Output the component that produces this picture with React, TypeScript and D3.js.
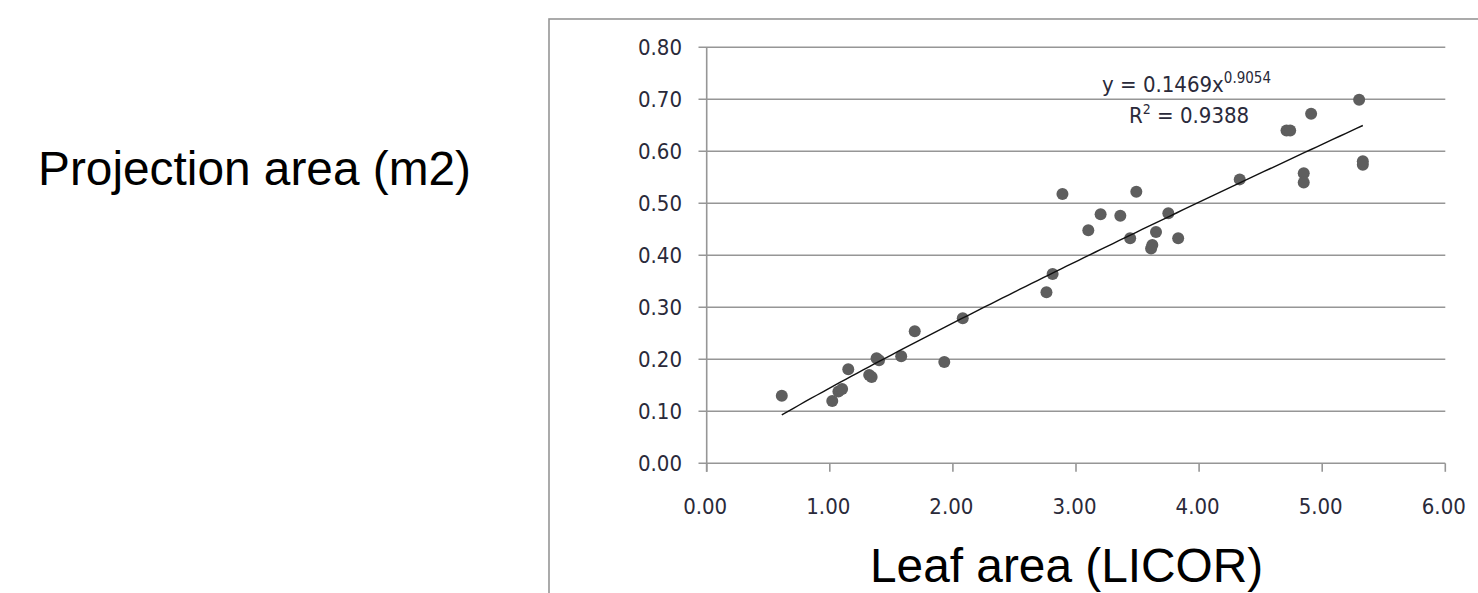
import React from "react";
import * as d3 from "d3";

// Leaf area (LICOR) vs projection area (m2)
const leafArea = [
  0.61, 1.02, 1.07, 1.1, 1.15, 1.32, 1.34, 1.38, 1.4, 1.58, 1.69, 1.93, 2.08,
  2.76, 2.81, 2.89, 3.1, 3.2, 3.36, 3.44, 3.49, 3.61, 3.62, 3.65, 3.75, 3.83,
  4.33, 4.71, 4.74, 4.85, 4.85, 4.91, 5.3, 5.33, 5.33,
];
const projArea = [
  0.13, 0.12, 0.138, 0.143, 0.181, 0.17, 0.166, 0.202, 0.198, 0.206, 0.254,
  0.195, 0.279, 0.329, 0.364, 0.518, 0.448, 0.479, 0.476, 0.433, 0.522, 0.413,
  0.42, 0.445, 0.481, 0.433, 0.546, 0.64, 0.64, 0.558, 0.54, 0.672, 0.699,
  0.574, 0.581,
];
const xTicks = [0, 1, 2, 3, 4, 5, 6];
const yTicks = [0, 0.1, 0.2, 0.3, 0.4, 0.5, 0.6, 0.7, 0.8];
const eqCoef = "0.1469";
const eqExp = "0.9054";
const rSquared = "0.9388";
const yTitle = "Projection area (m2)";
const xTitle = "Leaf area (LICOR)";

// power-law trend fitted (log-log least squares) to the points
function powerFit(xs: number[], ys: number[]) {
  const lx = xs.map(Math.log);
  const ly = ys.map(Math.log);
  const mx = d3.mean(lx) as number;
  const my = d3.mean(ly) as number;
  const sxy = d3.sum(lx, (v, i) => (v - mx) * (ly[i] - my));
  const sxx = d3.sum(lx, (v) => (v - mx) * (v - mx));
  const b = sxy / sxx;
  const a = Math.exp(my - b * mx);
  return { a, b };
}

export default function App() {
  const W = 1478;
  const H = 593;
  const x = d3.scaleLinear().domain([0, 6]).range([706.7, 1445.3]);
  const y = d3.scaleLinear().domain([0, 0.8]).range([463.3, 47.3]);
  const xMin = d3.min(leafArea) as number;
  const xMax = d3.max(leafArea) as number;
  const { a, b } = powerFit(leafArea, projArea);
  const trendPts = d3.range(0, 101).map((i) => {
    const xv = xMin + ((xMax - xMin) * i) / 100;
    return [xv, a * Math.pow(xv, b)] as [number, number];
  });
  const line = d3
    .line<[number, number]>()
    .x((d) => x(d[0]))
    .y((d) => y(d[1]));
  const grid = "#969696";
  const tickFont = {
    fontFamily: "'DejaVu Sans Condensed', 'DejaVu Sans', sans-serif",
    fontStretch: "condensed" as const,
    fontSize: 22,
    fill: "#2a2a3a",
  };
  const fmt = d3.format(".2f");
  return (
    <svg
      width={W}
      height={H}
      style={{ position: "absolute", left: 0, top: 0, background: "#fff" }}
    >
      <rect x={549} y={19} width={1000} height={700} fill="none" stroke={grid} strokeWidth={1.6} />
      {yTicks.map((t) => (
        <g key={"y" + t}>
          <line x1={698.5} x2={x(6)} y1={y(t)} y2={y(t)} stroke={grid} strokeWidth={1.6} />
          <text x={682} y={y(t)} dy="0.36em" textAnchor="end" {...tickFont}>
            {fmt(t)}
          </text>
        </g>
      ))}
      <line x1={x(0)} x2={x(0)} y1={y(0.8)} y2={y(0) + 8.5} stroke={grid} strokeWidth={1.6} />
      {xTicks.map((t) => (
        <g key={"x" + t}>
          <line x1={x(t)} x2={x(t)} y1={y(0)} y2={y(0) + 8.5} stroke={grid} strokeWidth={1.6} />
          <text x={x(t) - 1.5} y={514} textAnchor="middle" {...tickFont}>
            {fmt(t)}
          </text>
        </g>
      ))}
      {leafArea.map((lv, i) => (
        <circle key={"p" + i} cx={x(lv)} cy={y(projArea[i])} r={6} fill="#5e5e5e" />
      ))}
      <path d={line(trendPts) || ""} fill="none" stroke="#111" strokeWidth={1.4} />
      <text x={1102} y={92} {...tickFont}>
        y = {eqCoef}x
        <tspan fontSize={15} dy={-9}>{eqExp}</tspan>
      </text>
      <text x={1129} y={123} {...tickFont}>
        R<tspan fontSize={14} dy={-9}>2</tspan>
        <tspan dy={9}> = {rSquared}</tspan>
      </text>
      <text
        x={38}
        y={185}
        fontFamily="'Liberation Sans', Arial, sans-serif"
        fontSize={47.8}
        fill="#000"
      >
        {yTitle}
      </text>
      <text
        x={870}
        y={582}
        fontFamily="'Liberation Sans', Arial, sans-serif"
        fontSize={47.8}
        fill="#000"
      >
        {xTitle}
      </text>
    </svg>
  );
}
